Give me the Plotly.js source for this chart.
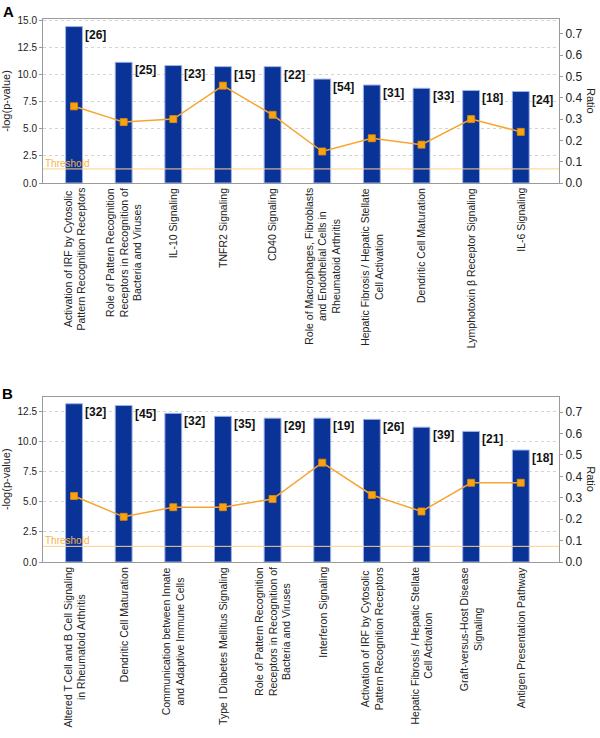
<!DOCTYPE html>
<html>
<head>
<meta charset="utf-8">
<script src="https://cdn.plot.ly/plotly-3.0.1.min.js"></script>
<style>html,body{margin:0;padding:0;background:#fff;}#chart{width:600px;height:738px;}</style>
</head>
<body>
<div id="chart"></div>
<script>
// ---------- Panel A data ----------
const catsA = [
  "Activation of IRF by Cytosolic Pattern Recognition Receptors",
  "Role of Pattern Recognition Receptors in Recognition of Bacteria and Viruses",
  "IL-10 Signaling",
  "TNFR2 Signaling",
  "CD40 Signaling",
  "Role of Macrophages, Fibroblasts and Endothelial Cells in Rheumatoid Arthritis",
  "Hepatic Fibrosis / Hepatic Stellate Cell Activation",
  "Dendritic Cell Maturation",
  "Lymphotoxin β Receptor Signaling",
  "IL-6 Signaling"
];
const labelsA = [
  "Activation of IRF by Cytosolic<br>Pattern Recognition Receptors",
  "Role of Pattern Recognition<br>Receptors in Recognition of<br>Bacteria and Viruses",
  "IL-10 Signaling",
  "TNFR2 Signaling",
  "CD40 Signaling",
  "Role of Macrophages, Fibroblasts<br>and Endothelial Cells in<br>Rheumatoid Arthritis",
  "Hepatic Fibrosis / Hepatic Stellate<br>Cell Activation",
  "Dendritic Cell Maturation",
  "Lymphotoxin β Receptor Signaling",
  "IL-6 Signaling"
];
const logpA = [14.45, 11.15, 10.85, 10.75, 10.75, 9.6, 9.05, 8.75, 8.55, 8.45];
const ratioA = [0.36, 0.286, 0.30, 0.457, 0.32, 0.148, 0.21, 0.18, 0.30, 0.24];
const countsA = [26, 25, 23, 15, 22, 54, 31, 33, 18, 24];

// ---------- Panel B data ----------
const catsB = [
  "Altered T Cell and B Cell Signaling in Rheumatoid Arthritis",
  "Dendritic Cell Maturation",
  "Communication between Innate and Adaptive Immune Cells",
  "Type I Diabetes Mellitus Signaling",
  "Role of Pattern Recognition Receptors in Recognition of Bacteria and Viruses",
  "Interferon Signaling",
  "Activation of IRF by Cytosolic Pattern Recognition Receptors",
  "Hepatic Fibrosis / Hepatic Stellate Cell Activation",
  "Graft-versus-Host Disease Signaling",
  "Antigen Presentation Pathway"
];
const labelsB = [
  "Altered T Cell and B Cell Signaling<br>in Rheumatoid Arthritis",
  "Dendritic Cell Maturation",
  "Communication between Innate<br>and Adaptive Immune Cells",
  "Type I Diabetes Mellitus Signaling",
  "Role of Pattern Recognition<br>Receptors in Recognition of<br>Bacteria and Viruses",
  "Interferon Signaling",
  "Activation of IRF by Cytosolic<br>Pattern Recognition Receptors",
  "Hepatic Fibrosis / Hepatic Stellate<br>Cell Activation",
  "Graft-versus-Host Disease<br>Signaling",
  "Antigen Presentation Pathway"
];
const logpB = [13.15, 13.0, 12.35, 12.1, 11.95, 11.95, 11.85, 11.2, 10.85, 9.3];
const ratioB = [0.308, 0.211, 0.256, 0.256, 0.294, 0.464, 0.313, 0.236, 0.37, 0.37];
const countsB = [32, 45, 32, 35, 29, 19, 26, 39, 21, 18];

const threshold = 1.3;
const panelLetters = ["A", "B"];

// ---------- styles ----------
const FONT = "Liberation Sans, Arial, sans-serif";
const barColor = "#0a3398";
const barEdge = "#9fb3e6";
const lineColor = "#f7a531";
const markerColor = "#f9a314";
const threshColor = "#fdd08a";
const threshTextColor = "#f6b44a";
const axisLine = "#9a9a9a";
const gridColor = "#d4d4d4";

function panel(cats, logp, ratio, xa, ya, ya2) {
  return [
    {
      type: "bar", x: cats, y: logp, xaxis: xa, yaxis: ya, width: 0.34,
      marker: {color: barColor, line: {color: barEdge, width: 1}},
      hoverinfo: "skip", showlegend: false
    },
    {
      type: "scatter", mode: "lines+markers", x: cats, y: ratio, xaxis: xa, yaxis: ya2,
      line: {color: lineColor, width: 1.5},
      marker: {symbol: "square", size: 7, color: markerColor, line: {color: "#e58c00", width: 0.8}},
      hoverinfo: "skip", showlegend: false
    }
  ];
}

const data = [].concat(
  panel(catsA, logpA, ratioA, "x", "y", "y2"),
  panel(catsB, logpB, ratioB, "x2", "y3", "y4")
);

const xDom = [43 / 600, 559 / 600];
const domA = [1 - 183 / 738, 1 - 19 / 738];
const domB = [1 - 562 / 738, 1 - 396.5 / 738];

function xAxis(anchor) {
  return {
    domain: xDom, anchor: anchor, type: "category", range: [-0.625, 9.77],
    showticklabels: false, ticks: "", showgrid: false, zeroline: false,
    showline: true, mirror: true, linecolor: axisLine, linewidth: 1, fixedrange: true
  };
}
function yLeft(dom, anchor, top) {
  return {
    domain: dom, anchor: anchor, range: [0, top], dtick: 2.5, tick0: 0, tickformat: ".1f",
    ticks: "outside", ticklen: 3, tickcolor: axisLine,
    tickfont: {family: FONT, size: 10, color: "#222"},
    showline: true, linecolor: axisLine, zeroline: false,
    showgrid: true, gridcolor: gridColor, griddash: "3px,3px", gridwidth: 1,
    title: {text: "-log(p-value)", font: {family: FONT, size: 11, color: "#222"}, standoff: 6},
    fixedrange: true
  };
}
function yRight(overlay, anchor, top) {
  return {
    overlaying: overlay, anchor: anchor, side: "right", range: [0, top], dtick: 0.1, tick0: 0,
    tickformat: ".1f", ticks: "outside", ticklen: 3, tickcolor: axisLine,
    tickfont: {family: FONT, size: 12, color: "#222"},
    showline: true, linecolor: axisLine, zeroline: false, showgrid: false, fixedrange: true
  };
}

const annotations = [];
const shapes = [];
function addPanelAnnots(cats, labels, logp, counts, xa, ya, dom) {
  const xr = xa, yr = ya;
  cats.forEach((c, i) => {
    // category label under axis
    annotations.push({
      x: c, xref: xr, y: 0, yref: yr + " domain", yanchor: "top", xanchor: "center",
      yshift: -3, text: labels[i], textangle: -90, align: "center", showarrow: false,
      font: {family: FONT, size: 10.5, color: "#222"}
    });
    // gene count label
    annotations.push({
      x: c, xref: xr, y: logp[i], yref: yr, xanchor: "left", yanchor: "top",
      xshift: 9, yshift: 1, text: "<b>[" + counts[i] + "]</b>", showarrow: false,
      font: {family: FONT, size: 12, color: "#111"}
    });
  });
  // threshold label
  annotations.push({
    x: 0, xref: xr + " domain", y: threshold, yref: yr, xanchor: "left", yanchor: "bottom",
    xshift: 0, yshift: -2, text: "Threshold", showarrow: false,
    font: {family: FONT, size: 10, color: threshTextColor}
  });
  shapes.push({
    type: "line", xref: xr + " domain", x0: 0, x1: 1, yref: yr, y0: threshold, y1: threshold,
    line: {color: threshColor, width: 1}, layer: "above"
  });
  // right axis title
  annotations.push({
    x: 591 / 600, xref: "paper", y: (dom[0] + dom[1]) / 2, yref: "paper",
    xanchor: "center", yanchor: "middle", text: "Ratio", textangle: 90, showarrow: false,
    font: {family: FONT, size: 11, color: "#222"}
  });
}
addPanelAnnots(catsA, labelsA, logpA, countsA, "x", "y", domA);
addPanelAnnots(catsB, labelsB, logpB, countsB, "x2", "y3", domB);

// panel letters
annotations.push({x: 0.002, xref: "paper", y: 1 - 1 / 738, yref: "paper", xanchor: "left", yanchor: "top",
  text: "<b>" + panelLetters[0] + "</b>", showarrow: false, font: {family: FONT, size: 15, color: "#000"}});
annotations.push({x: 0.0, xref: "paper", y: 1 - 383 / 738, yref: "paper", xanchor: "left", yanchor: "top",
  text: "<b>" + panelLetters[1] + "</b>", showarrow: false, font: {family: FONT, size: 15, color: "#000"}});

const layout = {
  width: 600, height: 738,
  margin: {l: 0, r: 0, t: 0, b: 0},
  paper_bgcolor: "#fff", plot_bgcolor: "#fff",
  font: {family: FONT, color: "#222"},
  xaxis: xAxis("y"),
  yaxis: yLeft(domA, "x", 15.15),
  yaxis2: yRight("y", "x", 0.77),
  xaxis2: xAxis("y3"),
  yaxis3: yLeft(domB, "x2", 13.75),
  yaxis4: yRight("y3", "x2", 0.773),
  bargap: 0.5,
  annotations: annotations,
  shapes: shapes
};

Plotly.newPlot("chart", data, layout, {displayModeBar: false, staticPlot: true});
</script>
</body>
</html>
